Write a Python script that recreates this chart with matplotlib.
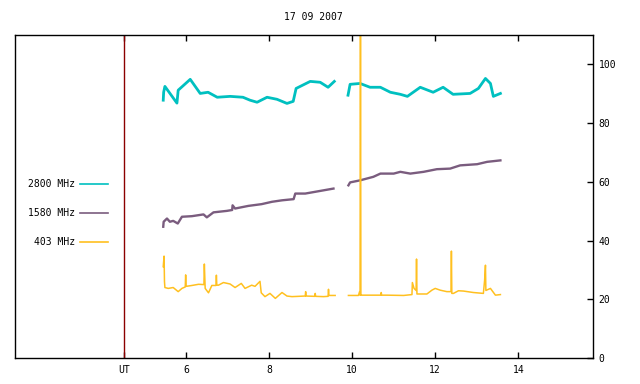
import numpy as np
import matplotlib.pyplot as plt

# time in UT hours, values in the chart's y units; nan splits the two runs
t2800 = [5.45, 5.46, 5.49, 5.78, 5.81, 6.10, 6.34, 6.53, 6.75, 7.06, 7.37, 7.54,
         7.71, 7.95, 8.19, 8.43, 8.58, 8.65, 8.99, 9.23, 9.42, 9.57,
         np.nan,
         9.90, 9.95, 10.19, 10.43, 10.68, 10.92, 11.16, 11.33, 11.64, 11.95,
         12.19, 12.43, 12.84, 13.04, 13.21, 13.33, 13.40, 13.57]
v2800 = [87.8, 90.5, 92.5, 86.8, 91.2, 94.9, 90.1, 90.5, 88.8, 89.1, 88.8, 87.8,
         87.1, 88.8, 88.1, 86.7, 87.4, 91.8, 94.2, 93.9, 92.2, 94.2,
         np.nan,
         89.5, 93.2, 93.5, 92.2, 92.2, 90.5, 89.8, 89.1, 92.2, 90.5,
         92.2, 89.8, 90.1, 91.8, 95.2, 93.5, 89.1, 90.1]

t1580 = [5.45, 5.46, 5.54, 5.61, 5.69, 5.80, 5.90, 6.14, 6.42, 6.50, 6.66, 6.98,
         7.11, 7.12, 7.18, 7.50, 7.82, 8.07, 8.31, 8.59, 8.63, 8.87, 9.19, 9.55,
         np.nan,
         9.91, 9.95, 10.19, 10.51, 10.68, 11.00, 11.16, 11.40, 11.72, 12.04,
         12.36, 12.60, 13.01, 13.25, 13.57]
v1580 = [44.7, 46.4, 47.5, 46.4, 46.7, 45.8, 48.1, 48.3, 48.9, 47.9, 49.6, 50.1,
         50.4, 52.0, 50.9, 51.8, 52.4, 53.2, 53.7, 54.1, 56.0, 56.0, 56.8, 57.7,
         np.nan,
         58.8, 59.8, 60.5, 61.7, 62.8, 62.8, 63.4, 62.8, 63.4, 64.3,
         64.5, 65.6, 66.0, 66.8, 67.3]

t403 = [5.45, 5.47, 5.48, 5.49, 5.57, 5.69, 5.81, 5.90, 5.98, 5.99, 6.00, 6.14,
        6.30, 6.43, 6.44, 6.46, 6.54, 6.62, 6.72, 6.73, 6.74, 6.78, 6.90, 7.06,
        7.18, 7.33, 7.42, 7.58, 7.66, 7.78, 7.81, 7.90, 8.02, 8.15, 8.31, 8.43,
        8.55, 8.87, 8.88, 8.89, 9.10, 9.11, 9.12, 9.31, 9.42, 9.43, 9.44, 9.59,
        np.nan,
        9.91, 10.15, 10.18, 10.19, 10.20, 10.21, 10.23, 10.43, 10.69, 10.70,
        10.71, 10.84, 11.24, 11.44, 11.45, 11.49, 11.54, 11.55, 11.56, 11.60,
        11.80, 11.92, 12.00, 12.12, 12.28, 12.38, 12.39, 12.40, 12.44, 12.56,
        12.68, 12.92, 13.16, 13.19, 13.21, 13.22, 13.33, 13.45, 13.57]
v403 = [31.1, 34.7, 26.0, 24.0, 23.7, 24.0, 22.6, 23.7, 24.2, 28.3, 24.4, 24.7,
        25.1, 25.0, 32.0, 23.7, 22.2, 24.7, 24.7, 28.2, 24.8, 24.8, 25.7, 25.2,
        24.0, 25.4, 23.7, 24.8, 24.4, 26.1, 22.2, 20.9, 22.0, 20.3, 22.3, 21.1,
        20.9, 21.1, 22.6, 21.1, 21.0, 22.0, 21.0, 20.9, 21.0, 23.4, 21.3, 21.3,
        np.nan,
        21.3, 21.3, 22.6, 21.4, 130.0, 21.4, 21.4, 21.4, 21.4, 22.3,
        21.4, 21.4, 21.3, 21.6, 25.7, 23.7, 23.0, 33.7, 21.8, 21.8,
        21.8, 23.1, 23.7, 23.1, 22.6, 22.6, 36.4, 22.0, 22.0, 22.9,
        22.8, 22.3, 22.0, 26.5, 31.6, 23.0, 23.7, 21.4, 21.6]

ut_mark = 4.5
xticks = [6, 8, 10, 12, 14]
yticks = [0, 20, 40, 60, 80, 100]

plt.rcParams['font.family'] = 'DejaVu Sans Mono'
plt.rcParams['font.size'] = 7

fig = plt.figure(figsize=(6.4, 3.84), dpi=100)
ax = fig.add_axes([15 / 640, 1 - 358 / 384, 578 / 640, 323 / 384])

ax.plot(t2800, v2800, color='#00c0c0', linewidth=2.0, label='2800 MHz')
ax.plot(t1580, v1580, color='#7a5c7e', linewidth=1.7, label='1580 MHz')
ax.plot(t403, v403, color='#ffc020', linewidth=1.1, label='403 MHz')
ax.axvline(ut_mark, color='#8b0000', linewidth=1)

ax.set_xlim(1.88, 15.8)
ax.set_ylim(0, 110)

ax.set_xticks([ut_mark] + xticks)
ax.set_xticklabels(['UT'] + [str(v) for v in xticks])
ax.set_yticks(yticks)
ax.yaxis.tick_right()
ax.tick_params(axis='x', direction='in', length=4, width=1, top=True, pad=5)
ax.tick_params(axis='y', direction='in', length=4, width=1, left=False, pad=4)
for s in ax.spines.values():
    s.set_linewidth(1)

leg = ax.legend(loc='upper left', bbox_to_anchor=(28 / 640, 1 - 179 / 384),
                bbox_transform=fig.transFigure, frameon=False, markerfirst=False,
                handlelength=2.9, labelspacing=1.95, borderpad=0, borderaxespad=0,
                handletextpad=0.5)
for h in leg.get_lines():
    h.set_linewidth(1.2)

fig.text(313 / 640, 1 - 17 / 384, '17 09 2007', ha='center', va='center')

fig.savefig('out.png', dpi=100)
